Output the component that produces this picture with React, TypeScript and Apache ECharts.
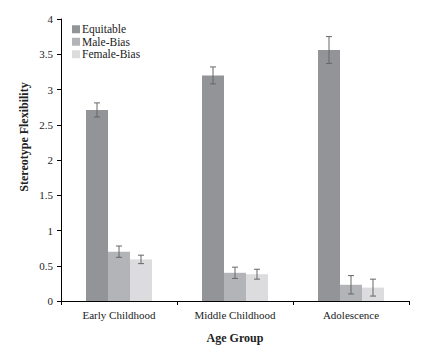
import React, { useEffect, useRef } from "react";
import * as echarts from "echarts";

const categories = ["Early Childhood", "Middle Childhood", "Adolescence"];
const seriesNames = ["Equitable", "Male-Bias", "Female-Bias"];
const equitable = [2.71, 3.2, 3.56];
const maleBias = [0.7, 0.4, 0.23];
const femaleBias = [0.59, 0.38, 0.19];
const equitableErr = [0.1, 0.12, 0.19];
const maleBiasErr = [0.08, 0.08, 0.13];
const femaleBiasErr = [0.06, 0.07, 0.12];
const yTicks = [0, 0.5, 1, 1.5, 2, 2.5, 3, 3.5, 4];
const yTitle = "Stereotype Flexibility";
const xTitle = "Age Group";

const colors = ["#939497", "#b3b4b7", "#dcdcde"];
const FONT = "Liberation Serif, Times New Roman, serif";
const BAR_W = 22;

export default function App() {
  const ref = useRef<HTMLDivElement>(null);
  useEffect(() => {
    if (!ref.current) return;
    const chart = echarts.init(ref.current, undefined, { renderer: "svg" });
    const values = [equitable, maleBias, femaleBias];
    const errs = [equitableErr, maleBiasErr, femaleBiasErr];
    const barSeries = seriesNames.map((name, i) => ({
      name,
      type: "bar",
      data: values[i],
      barWidth: BAR_W,
      barGap: "0%",
      itemStyle: { color: colors[i] },
      z: 2,
    }));
    const errSeries = seriesNames.map((name, i) => ({
      name: name + "-err",
      type: "custom",
      z: 5,
      data: values[i].map((v, j) => [j, v, errs[i][j]]),
      renderItem: (params: any, api: any) => {
        const c = api.value(0);
        const v = api.value(1);
        const e = api.value(2);
        const hi = api.coord([c, v + e]);
        const lo = api.coord([c, v - e]);
        const x = hi[0] + (i - 1) * BAR_W;
        const cap = 3;
        const st = { stroke: "#666666", lineWidth: 1 };
        return {
          type: "group",
          children: [
            { type: "line", shape: { x1: x, y1: hi[1], x2: x, y2: lo[1] }, style: st },
            { type: "line", shape: { x1: x - cap, y1: hi[1], x2: x + cap, y2: hi[1] }, style: st },
            { type: "line", shape: { x1: x - cap, y1: lo[1], x2: x + cap, y2: lo[1] }, style: st },
          ],
        };
      },
    }));
    chart.setOption({
      animation: false,
      textStyle: { fontFamily: FONT },
      grid: { left: 61, right: 15, top: 19, bottom: 57 },
      graphic: [
        {
          type: "text",
          x: 24,
          y: 137,
          rotation: Math.PI / 2,
          style: {
            text: yTitle,
            fontFamily: FONT,
            fontSize: 12,
            fontWeight: "bold",
            fill: "#222",
            textAlign: "center",
            textVerticalAlign: "middle",
          },
        },
      ],
      legend: {
        data: seriesNames,
        orient: "vertical",
        left: 72,
        top: 23,
        padding: 0,
        itemWidth: 8,
        itemHeight: 8,
        itemGap: 0,
        icon: "rect",
        textStyle: {
          fontFamily: FONT,
          fontSize: 11.5,
          lineHeight: 12.5,
          color: "#222",
          padding: [0, 0, 0, -3],
        },
      },
      xAxis: {
        type: "category",
        data: categories,
        name: xTitle,
        nameLocation: "middle",
        nameGap: 31,
        nameTextStyle: { fontFamily: FONT, fontSize: 12, fontWeight: "bold", color: "#222" },
        axisLine: { lineStyle: { color: "#000", width: 1 } },
        axisTick: { show: true, length: 4, inside: false, lineStyle: { color: "#000" } },
        axisLabel: { fontFamily: FONT, fontSize: 11, color: "#222", margin: 8 },
      },
      yAxis: {
        type: "value",
        min: 0,
        max: 4,
        interval: 0.5,
        axisLine: { show: true, lineStyle: { color: "#000", width: 1 } },
        axisTick: { show: true, length: 4, lineStyle: { color: "#000" } },
        splitLine: { show: false },
        axisLabel: {
          fontFamily: FONT,
          fontSize: 11,
          color: "#222",
          margin: 8,
          formatter: (v: number) => (yTicks.includes(v) ? String(v) : ""),
        },
      },
      series: [...barSeries, ...errSeries],
    });
    return () => chart.dispose();
  }, []);
  return <div ref={ref} style={{ width: 424, height: 358, position: "absolute", left: 0, top: 0 }} />;
}
